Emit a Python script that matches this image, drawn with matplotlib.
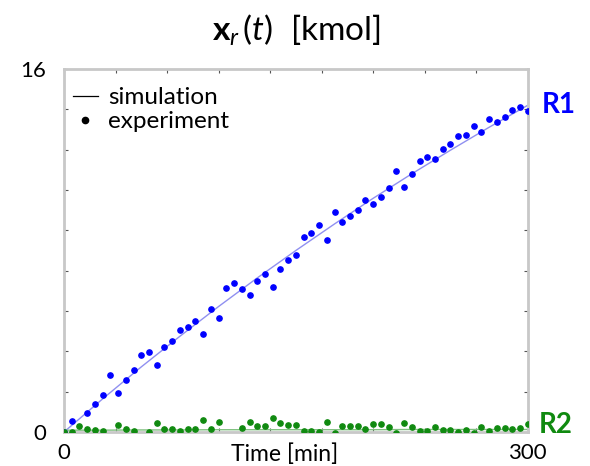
import numpy as np
import matplotlib
matplotlib.use('Agg')
import matplotlib.pyplot as plt
from matplotlib.lines import Line2D

plt.rcParams['font.family'] = ['Lato', 'DejaVu Sans']
plt.rcParams['mathtext.fontset'] = 'custom'
plt.rcParams['mathtext.rm'] = 'Lato'
plt.rcParams['mathtext.it'] = 'Lato:italic'
plt.rcParams['mathtext.bf'] = 'Lato:bold'

# pontos experimentais, a cada 5 min (nan = ponto que nao aparece)
t_exp = np.arange(0, 301, 5)
r1_exp = [0.00, 0.48, np.nan, 0.82, 1.22, 1.62, 2.53, 1.70, 2.30, 2.72,
          3.41, 3.51, 2.95, 3.73, 4.01, 4.48, 4.63, 4.88, 4.31, 5.41,
          5.02, 6.35, 6.55, 6.32, 6.05, 6.67, 6.98, 6.40, 7.17, 7.58,
          7.81, 8.61, 8.77, 9.12, 8.45, 9.68, 9.24, 9.53, 9.79, 10.21,
          10.06, 10.35, 10.74, 11.50, 10.80, 11.39, 11.94, 12.11, 12.03, 12.47,
          12.68, 13.06, 13.10, 13.50, 13.21, 13.78, 13.66, 13.87, 14.19, 14.32,
          14.16]
r2_exp = [0.00, 0.01, 0.26, 0.13, 0.09, 0.06, np.nan, 0.31, 0.13, 0.06,
          np.nan, -0.01, 0.38, 0.13, 0.13, 0.04, 0.13, 0.13, 0.54, 0.13,
          0.43, np.nan, np.nan, 0.19, 0.43, 0.26, 0.26, 0.63, 0.38, 0.31,
          0.31, 0.04, 0.04, 0.01, 0.46, -0.03, 0.28, 0.27, 0.27, 0.13,
          0.34, 0.34, 0.23, -0.06, 0.41, 0.23, 0.04, 0.04, 0.23, 0.09,
          0.09, 0.00, 0.09, -0.03, 0.23, 0.04, 0.19, 0.19, 0.13, 0.16,
          0.35]

# simulacao
t_sim = [0, 25, 50, 75, 100, 125, 150, 175, 200, 225, 250, 275, 300]
r1_sim = [0.00, 1.46, 2.87, 4.22, 5.53, 6.79, 8.00, 9.17, 10.30, 11.38, 12.42, 13.43, 14.40]
r2_sim = [0.08, 0.08, 0.09, 0.09, 0.10, 0.10, 0.10, 0.10, 0.10, 0.11, 0.11, 0.11, 0.11]

azul = '#0000ff'
verde = '#108a10'

fig = plt.figure(figsize=(5.9, 4.66), dpi=100)
ax = fig.add_axes([0.1085, 0.073, 0.786, 0.779])

ax.plot(t_sim, r1_sim, color='#9090f0', lw=1.0, zorder=2)
ax.plot(t_sim, r2_sim, color='#80c080', lw=1.0, zorder=2)
ax.plot(t_exp, r1_exp, 'o', color=azul, ms=3.8, zorder=3)
ax.plot(t_exp, r2_exp, 'o', color=verde, ms=3.8, zorder=3)

ax.set_xlim(0, 300)
ax.set_ylim(0, 16)
ax.set_xticks(np.linspace(0, 300, 10))
ax.set_yticks(np.linspace(0, 16, 10))
ax.set_xticklabels(['0'] + [''] * 8 + ['300'])
ax.set_yticklabels(['0'] + [''] * 8 + ['16'])
ax.tick_params(direction='in', length=3, width=0.8, color='#555555',
               top=True, right=True, labelsize=16)
ax.tick_params(axis='x', pad=8)
ax.tick_params(axis='y', pad=13)
for s in ax.spines.values():
    s.set_color('#c8c8c8')
    s.set_linewidth(2.0)

# rotulo do eixo x na mesma linha dos numeros
ax.annotate('Time [min]', xy=(0.475, 0), xycoords='axes fraction',
            xytext=(0, -8), textcoords='offset points',
            ha='center', va='top', fontsize=16.5)
ax.set_title(r'$\mathbf{x}_{r}\,(t)\ \ [\mathrm{kmol}]$', fontsize=24, pad=20)

handles = [Line2D([], [], color='black', lw=0.9),
           Line2D([], [], ls='none', marker='o', color='black', ms=4.5)]
ax.legend(handles, ['simulation', 'experiment'], loc='upper left',
          frameon=False, fontsize=17.5, handlelength=1.0, handletextpad=0.42,
          labelspacing=0.12, borderpad=0.0, borderaxespad=0.0,
          bbox_to_anchor=(0.02, 0.95))

ax.text(1.03, 14.4, 'R1', transform=ax.get_yaxis_transform(),
        color=azul, fontsize=20, fontweight='bold', va='center', ha='left')
ax.text(1.024, 0.3, 'R2', transform=ax.get_yaxis_transform(),
        color=verde, fontsize=20, fontweight='bold', va='center', ha='left')

fig.savefig('out.png', dpi=100)
